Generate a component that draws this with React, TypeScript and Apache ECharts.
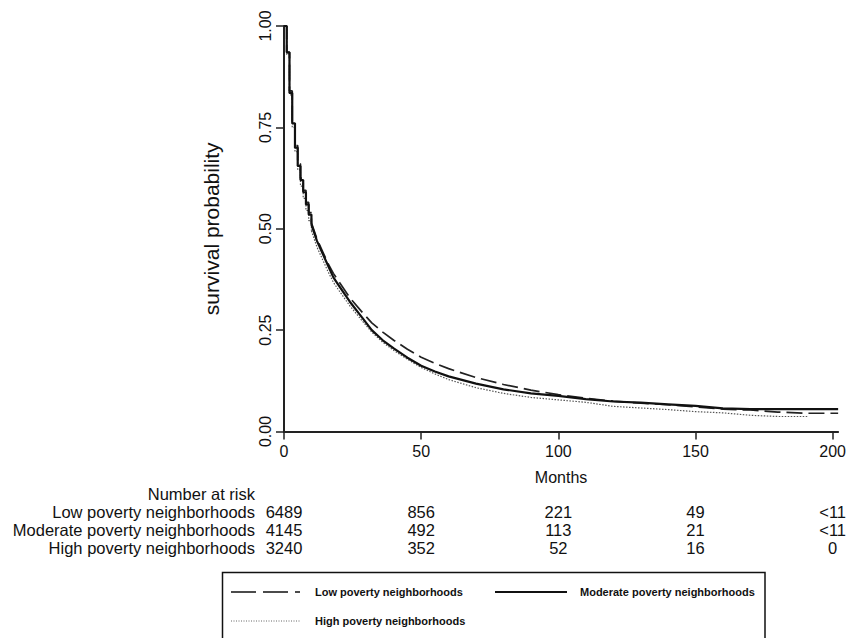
import React, { useEffect, useRef } from "react";
import * as echarts from "echarts";

const monthsLow = [0, 1, 2, 3, 4, 5, 6, 7, 8, 9, 10, 12, 14, 16, 18, 20, 24, 28, 32, 36, 40, 45, 50, 55, 60, 70, 80, 90, 100, 110, 120, 130, 140, 150, 160, 170, 180, 190, 202];
const survLow = [1, 0.935, 0.84, 0.765, 0.705, 0.66, 0.625, 0.595, 0.565, 0.54, 0.515, 0.475, 0.445, 0.415, 0.39, 0.37, 0.33, 0.298, 0.268, 0.245, 0.225, 0.203, 0.183, 0.168, 0.155, 0.133, 0.116, 0.102, 0.091, 0.082, 0.075, 0.07, 0.066, 0.061, 0.055, 0.053, 0.048, 0.045, 0.045];

const monthsModerate = [0, 1, 2, 3, 4, 5, 6, 7, 8, 9, 10, 12, 14, 16, 18, 20, 24, 28, 32, 36, 40, 45, 50, 55, 60, 70, 80, 90, 100, 110, 120, 130, 140, 150, 160, 170, 180, 190, 202];
const survModerate = [1, 0.935, 0.835, 0.76, 0.7, 0.655, 0.62, 0.59, 0.56, 0.535, 0.51, 0.47, 0.44, 0.41, 0.38, 0.36, 0.32, 0.285, 0.25, 0.225, 0.205, 0.182, 0.162, 0.148, 0.136, 0.118, 0.104, 0.094, 0.088, 0.08, 0.074, 0.071, 0.067, 0.063, 0.057, 0.055, 0.055, 0.055, 0.055];

const monthsHigh = [0, 1, 2, 3, 4, 5, 6, 7, 8, 9, 10, 12, 14, 16, 18, 20, 24, 28, 32, 36, 40, 45, 50, 55, 60, 70, 80, 90, 100, 110, 120, 130, 140, 150, 160, 170, 180, 191];
const survHigh = [1, 0.93, 0.83, 0.75, 0.69, 0.645, 0.605, 0.575, 0.545, 0.52, 0.495, 0.455, 0.425, 0.395, 0.368, 0.348, 0.31, 0.277, 0.245, 0.22, 0.2, 0.178, 0.158, 0.142, 0.128, 0.108, 0.094, 0.084, 0.078, 0.072, 0.062, 0.058, 0.054, 0.049, 0.046, 0.04, 0.037, 0.037];

const xTicks = [0, 50, 100, 150, 200];

const groupNames = ["Low poverty neighborhoods", "Moderate poverty neighborhoods", "High poverty neighborhoods"];
const riskLow = ["6489", "856", "221", "49", "<11"];
const riskModerate = ["4145", "492", "113", "21", "<11"];
const riskHigh = ["3240", "352", "52", "16", "0"];

const FONT = "'Liberation Sans', Arial, Helvetica, sans-serif";
// Early coarse steps are drawn as steps; later many small steps look smooth
const STEP_UNTIL = 10;

function pairs(xs: number[], ys: number[], from: number, to: number) {
  const out: number[][] = [];
  xs.forEach((x, i) => {
    if (x >= from && x <= to) out.push([x, ys[i]]);
  });
  return out;
}

function curve(name: string, xs: number[], ys: number[], lineStyle: any, z: number) {
  return [
    {
      name,
      type: "line",
      step: "end",
      showSymbol: false,
      data: pairs(xs, ys, 0, STEP_UNTIL),
      lineStyle,
      z,
    },
    {
      name,
      type: "line",
      showSymbol: false,
      data: pairs(xs, ys, STEP_UNTIL, 1000),
      lineStyle,
      z,
    },
  ];
}

export default function App() {
  const ref = useRef<HTMLDivElement>(null);

  useEffect(() => {
    if (!ref.current) return;
    const chart = echarts.init(ref.current, undefined, { renderer: "svg" });
    chart.setOption({
      animation: false,
      backgroundColor: "#ffffff",
      textStyle: { fontFamily: FONT },
      grid: { left: 284, top: 26, width: 556, height: 405.5 },
      xAxis: {
        type: "value",
        min: 0,
        max: 202,
        name: "Months",
        nameLocation: "middle",
        nameGap: 38,
        nameTextStyle: { fontSize: 16, color: "#111", fontFamily: FONT },
        axisLine: { show: true, lineStyle: { color: "#222", width: 2 } },
        axisTick: { show: true, length: 8, lineStyle: { color: "#222", width: 1.5 }, customValues: xTicks },
        axisLabel: {
          fontSize: 16,
          color: "#111",
          margin: 12,
          fontFamily: FONT,
          customValues: xTicks,
          formatter: (v: number) => (xTicks.indexOf(v) >= 0 ? String(v) : ""),
        },
        splitLine: { show: false },
      },
      yAxis: {
        type: "value",
        min: 0,
        max: 1,
        interval: 0.25,
        name: "survival probability",
        nameLocation: "middle",
        nameRotate: 90,
        nameGap: 62,
        nameTextStyle: { fontSize: 21, color: "#111", fontFamily: FONT },
        axisLine: { show: true, lineStyle: { color: "#222", width: 2 } },
        axisTick: { show: true, length: 8, lineStyle: { color: "#222", width: 1.5 } },
        axisLabel: {
          fontSize: 16,
          color: "#111",
          margin: 11,
          rotate: 90,
          fontFamily: FONT,
          formatter: (v: number) => v.toFixed(2),
        },
        splitLine: { show: false },
      },
      series: [
        ...curve(groupNames[2], monthsHigh, survHigh, { color: "#555", width: 1.2, type: [1.5, 1.5] }, 2),
        ...curve(groupNames[0], monthsLow, survLow, { color: "#222", width: 1.7, type: [16, 6] }, 3),
        ...curve(groupNames[1], monthsModerate, survModerate, { color: "#111", width: 2.2 }, 4),
      ],
    });

    const xs = xTicks.map((t) => chart.convertToPixel({ xAxisIndex: 0 }, t) as number);
    const rows = [riskLow, riskModerate, riskHigh];
    const rowY = [512, 530, 548];
    const tableFont = `16.5px ${FONT}`;
    const graphics: any[] = [
      {
        type: "text",
        style: { text: "Number at risk", x: 255, y: 494, textAlign: "right", textVerticalAlign: "middle", font: tableFont, fill: "#111" },
      },
    ];
    rows.forEach((row, r) => {
      graphics.push({
        type: "text",
        style: { text: groupNames[r], x: 255, y: rowY[r], textAlign: "right", textVerticalAlign: "middle", font: tableFont, fill: "#111" },
      });
      row.forEach((val, c) => {
        graphics.push({
          type: "text",
          style: { text: val, x: xs[c], y: rowY[r], textAlign: "center", textVerticalAlign: "middle", font: tableFont, fill: "#111" },
        });
      });
    });

    // legend box
    const legFont = `bold 11px ${FONT}`;
    graphics.push(
      { type: "rect", shape: { x: 222.5, y: 572.5, width: 542.5, height: 90 }, style: { fill: "none", stroke: "#111", lineWidth: 1.5 } },
      { type: "line", shape: { x1: 231, y1: 592, x2: 300, y2: 592 }, style: { stroke: "#111", lineWidth: 1.5, lineDash: [25, 7] } },
      { type: "text", style: { text: groupNames[0], x: 315, y: 592, textVerticalAlign: "middle", font: legFont, fill: "#111" } },
      { type: "line", shape: { x1: 495, y1: 592, x2: 567, y2: 592 }, style: { stroke: "#111", lineWidth: 2 } },
      { type: "text", style: { text: groupNames[1], x: 580, y: 592, textVerticalAlign: "middle", font: legFont, fill: "#111" } },
      { type: "line", shape: { x1: 231, y1: 621, x2: 300, y2: 621 }, style: { stroke: "#666", lineWidth: 1, lineDash: [1, 1.5] } },
      { type: "text", style: { text: groupNames[2], x: 315, y: 621, textVerticalAlign: "middle", font: legFont, fill: "#111" } }
    );
    chart.setOption({ graphic: graphics });

    return () => chart.dispose();
  }, []);

  return (
    <div
      ref={ref}
      style={{ position: "fixed", left: 0, top: 0, width: 849, height: 638, background: "#fff" }}
    />
  );
}
